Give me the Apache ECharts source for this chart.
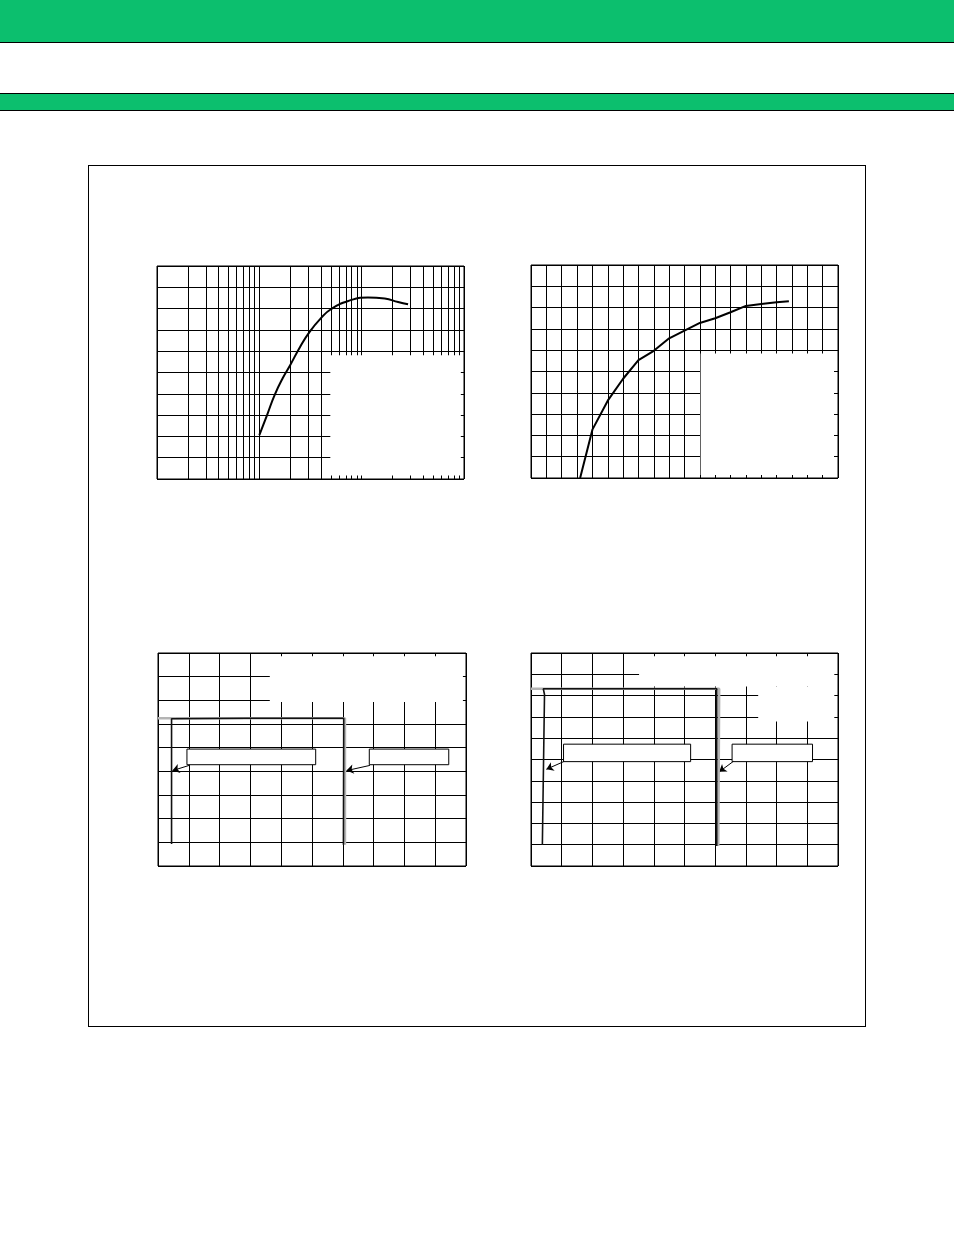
<!DOCTYPE html>
<html>
<head>
<meta charset="utf-8">
<script src="https://cdn.jsdelivr.net/npm/echarts@6/dist/echarts.min.js"></script>
<style>
html, body { margin: 0; padding: 0; background: #fff; }
#page { position: relative; width: 954px; height: 1235px; overflow: hidden; }
.band { position: absolute; left: 0; width: 954px; background: #0cbf6e; }
#top { top: 0; height: 42px; border-bottom: 1px solid #000; }
#mid { top: 93px; height: 16px; border-top: 1px solid #000; border-bottom: 1px solid #000; }
#frame { position: absolute; left: 88px; top: 165px; width: 776px; height: 860px; border: 1px solid #000; }
#chart { position: absolute; left: 0; top: 0; width: 954px; height: 1235px; }
</style>
</head>
<body>
<div id="page">
  <div class="band" id="top"></div>
  <div class="band" id="mid"></div>
  <div id="frame"></div>
  <div id="chart"></div>
</div>
<script>
// ---- chart 1 : log x axis, smooth curve ----
var c1X = [10, 12, 14.1, 17, 20, 25, 31, 40, 50, 74, 115, 168, 227, 284];
var c1Y = [20.6, 30.5, 39.4, 47.5, 53.4, 62, 69.1, 75.5, 79.7, 83.6, 85.2, 84.7, 83.1, 82.0];
var c1MinorX = [2, 3, 4, 5, 6, 7, 8, 9, 20, 30, 40, 50, 60, 70, 80, 90, 200, 300, 400, 500, 600, 700, 800, 900];

// ---- chart 2 : linear, polyline ----
var c2X = [3.2, 4, 5, 6, 7, 8, 9, 10, 11, 12, 13, 14, 15, 16, 16.8];
var c2Y = [0, 22.7, 36.3, 46.6, 55.3, 59.7, 65.6, 69.2, 72.8, 75.0, 77.8, 80.8, 81.7, 82.5, 83.0];

// ---- chart 3 : pulse, two traces ----
var c3GreyX = [0, 6.07, 6.07];
var c3GreyY = [6.24, 6.24, 0.90];
var c3BlackX = [0.44, 0.44, 2.9, 6.03, 6.02];
var c3BlackY = [0.93, 6.22, 6.24, 6.24, 0.90];

// ---- chart 4 : pulse, two traces ----
var c4GreyX = [0, 6.13, 6.10];
var c4GreyY = [8.32, 8.32, 0.94];
var c4BlackX = [0.37, 0.44, 0.40, 6.05, 6.05];
var c4BlackY = [0.99, 8.05, 8.32, 8.32, 0.94];

function pairs(xs, ys) {
  return xs.map(function (x, i) { return [x, ys[i]]; });
}

var gridLine = { show: true, lineStyle: { color: '#000', width: 1, type: 'solid' } };

function ax(i, type, min, max, interval) {
  var a = {
    gridIndex: i, type: type, min: min, max: max,
    axisLabel: { show: false }, axisTick: { show: false }, axisLine: { show: false },
    splitLine: gridLine
  };
  if (interval) a.interval = interval;
  if (type === 'log') a.logBase = 10;
  return a;
}

function gridBox(l, t, w, h) {
  return { left: l, top: t, width: w, height: h, show: true, borderColor: '#000', borderWidth: 1, backgroundColor: 'transparent' };
}

// white area that hides the grid (text was there)
function mask(x0, y0, x1, y1) {
  return [{ xAxis: x0, yAxis: y0, itemStyle: { color: '#fff', borderWidth: 0 } }, { xAxis: x1, yAxis: y1 }];
}
// empty callout box
function callout(x0, y0, x1, y1) {
  return [{ xAxis: x0, yAxis: y0, itemStyle: { color: '#fff', borderColor: '#000', borderWidth: 1 } }, { xAxis: x1, yAxis: y1 }];
}
function arrow(x0, y0, x1, y1) {
  return [{ coord: [x0, y0] }, { coord: [x1, y1] }];
}

function curve(idx, data, color, width, smooth) {
  return {
    type: 'line', xAxisIndex: idx, yAxisIndex: idx, data: data,
    showSymbol: false, symbol: 'none', smooth: smooth || false, z: 10,
    lineStyle: { color: color, width: width }, silent: true
  };
}

var s1 = curve(0, pairs(c1X, c1Y), '#000', 2, 0.5);
s1.markLine = {
  z: 1, silent: true, symbol: ['none', 'none'], label: { show: false },
  lineStyle: { color: '#000', width: 1, type: 'solid' },
  data: c1MinorX.map(function (v) { return { xAxis: v }; })
};
s1.markArea = { z: 2, silent: true, data: [mask(49.4, 58.1, 931, 1.6)] };

var s2 = curve(1, pairs(c2X, c2Y), '#000', 2, false);
s2.markArea = { z: 2, silent: true, data: [mask(11.05, 58.4, 19.74, 1.4)] };

var s3g = curve(2, pairs(c3GreyX, c3GreyY), '#b4b4b4', 2.5, false);
var s3b = curve(2, pairs(c3BlackX, c3BlackY), '#111', 1.6, false);
s3b.markArea = {
  z: 2, silent: true,
  data: [mask(3.63, 8.86, 9.9, 6.93), callout(0.94, 4.94, 5.12, 4.28), callout(6.86, 4.94, 9.44, 4.28)]
};
s3b.markLine = {
  silent: true, symbol: ['none', 'arrow'], symbolSize: 7, label: { show: false },
  lineStyle: { color: '#000', width: 1, type: 'solid' },
  data: [arrow(1.01, 4.25, 0.47, 4.03), arrow(6.88, 4.25, 6.12, 4.03)]
};

var s4g = curve(3, pairs(c4GreyX, c4GreyY), '#b4b4b4', 2.5, false);
var s4b = curve(3, pairs(c4BlackX, c4BlackY), '#111', 1.6, false);
s4b.markArea = {
  z: 2, silent: true,
  data: [mask(3.52, 9.85, 9.88, 8.43), mask(7.40, 8.43, 9.88, 6.78),
         callout(1.06, 5.72, 5.20, 4.90), callout(6.55, 5.72, 9.17, 4.90)]
};
s4b.markLine = {
  silent: true, symbol: ['none', 'arrow'], symbolSize: 7, label: { show: false },
  lineStyle: { color: '#000', width: 1, type: 'solid' },
  data: [arrow(1.08, 4.91, 0.50, 4.54), arrow(6.59, 4.91, 6.13, 4.42)]
};

var chart = echarts.init(document.getElementById('chart'));
var option = {
  animation: false,
  backgroundColor: 'transparent',
  grid: [
    gridBox(157, 266, 307, 213),
    gridBox(531, 265, 307, 213),
    gridBox(158, 653, 308, 213),
    gridBox(531, 653, 307, 213)
  ],
  xAxis: [
    ax(0, 'log', 1, 1000),
    ax(1, 'value', 0, 20, 1),
    ax(2, 'value', 0, 10, 1),
    ax(3, 'value', 0, 10, 1)
  ],
  yAxis: [
    ax(0, 'value', 0, 100, 10),
    ax(1, 'value', 0, 100, 10),
    ax(2, 'value', 0, 9, 1),
    ax(3, 'value', 0, 10, 1)
  ],
  series: [s1, s2, s3g, s3b, s4g, s4b]
};
chart.setOption(option);
</script>
</body>
</html>
